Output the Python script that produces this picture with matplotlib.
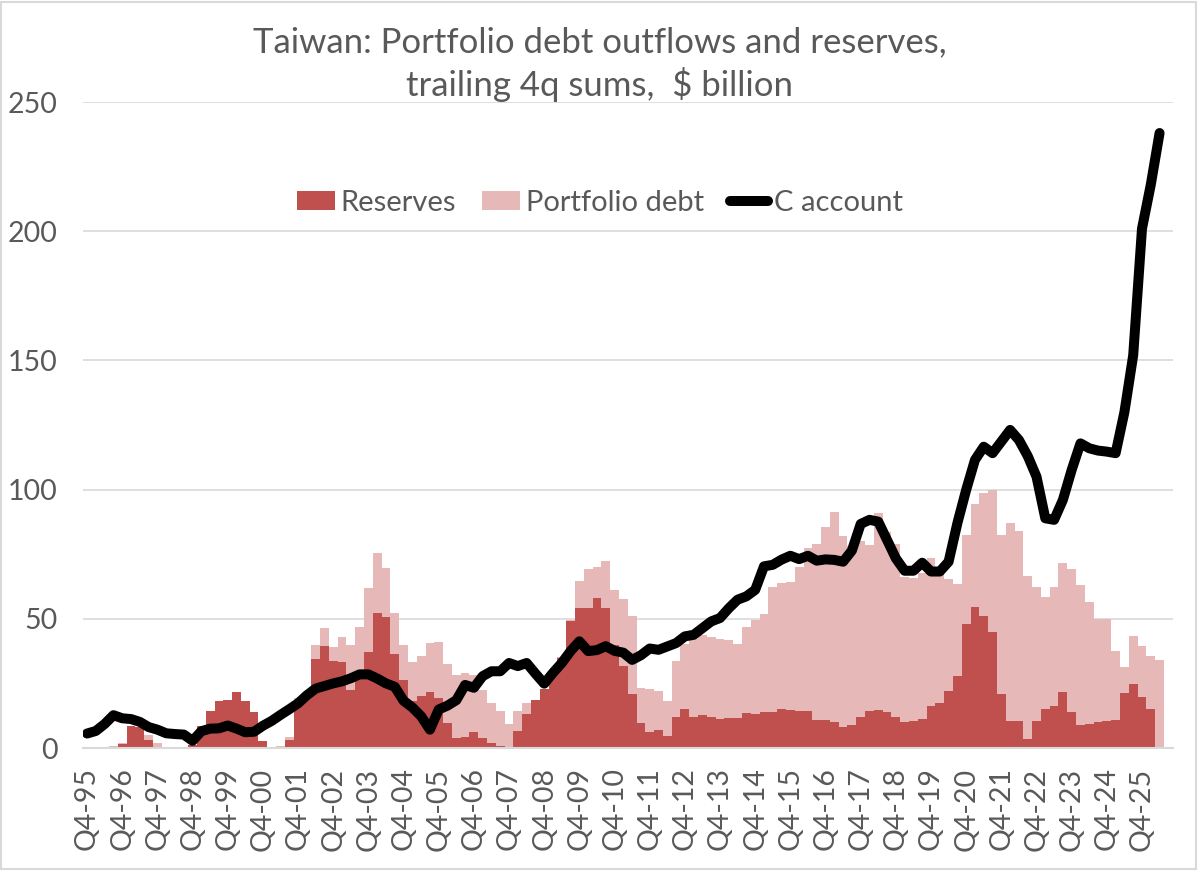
import matplotlib
matplotlib.use("Agg")
import matplotlib.pyplot as plt
from matplotlib.patches import Rectangle
from matplotlib.lines import Line2D
from matplotlib.patches import Patch

plt.rcParams['font.family'] = ['Lato', 'DejaVu Sans']

# quarterly, Q4-95 onwards (trailing 4q sums, $ billion)
reserves = [
    0, 0, 0, 0, 1.5, 8.4, 8.3, 3.2, 0, 0,
    0, 0, 1.3, 8.7, 14.5, 18.1, 18.5, 21.7, 18.3, 14.0,
    2.8, 0, 0, 3.0, 17.5, 19.0, 34.5, 39.4, 33.6, 33.2,
    22.5, 28.0, 37.1, 52.1, 50.6, 36.2, 26.5, 18.0, 20.2, 21.8,
    19.5, 9.8, 3.8, 4.3, 6.1, 3.9, 1.9, 0.8, 0, 6.5,
    13.2, 18.5, 22.9, 27.8, 34.9, 49.1, 54.0, 54.3, 58.1, 54.0,
    40.0, 31.7, 20.9, 9.6, 6.3, 7.0, 4.6, 11.9, 15.0, 12.1,
    12.8, 11.9, 11.2, 11.5, 11.8, 13.4, 13.0, 14.0, 14.1, 15.0,
    14.7, 14.5, 14.3, 11.0, 10.8, 10.2, 8.3, 8.9, 12.1, 14.5,
    14.7, 14.1, 12.1, 10.2, 10.6, 11.1, 16.3, 17.5, 22.2, 27.9,
    47.9, 54.5, 51.2, 44.8, 20.9, 10.6, 10.6, 3.4, 10.6, 15.0,
    16.3, 21.5, 14.1, 8.9, 9.3, 9.9, 10.6, 10.9, 21.2, 24.8,
    19.6, 15.1, 0,
]

portfolio_debt = [
    0, 0, 0, 0.6, 0.3, 0, 0, 1.7, 1.9, 0.4,
    0.3, 0.3, 0, 0, 0, 0, 0, 0, 0, 0,
    0, 0.3, 0.9, 1.4, 2.0, 1.5, 5.2, 6.9, 5.5, 9.7,
    17.5, 19.0, 24.9, 23.5, 19.2, 16.1, 13.5, 15.2, 15.5, 19.0,
    21.6, 22.6, 24.6, 24.7, 22.1, 18.5, 15.5, 13.4, 9.3, 7.7,
    4.2, 0, 0, 0, 0.3, 0.6, 10.6, 14.8, 12.1, 18.4,
    21.3, 26.1, 30.2, 13.6, 16.4, 15.2, 13.6, 21.6, 25.3, 29.9,
    31.0, 31.1, 31.0, 30.4, 28.5, 33.4, 36.6, 37.8, 48.4, 48.8,
    49.6, 55.5, 63.1, 68.0, 74.6, 81.3, 73.7, 69.1, 67.9, 64.1,
    76.1, 69.6, 66.7, 56.1, 55.1, 56.5, 57.1, 50.5, 43.1, 35.6,
    34.6, 40.0, 47.4, 55.1, 61.6, 76.6, 73.4, 63.3, 51.9, 43.6,
    46.2, 50.2, 55.2, 54.2, 47.3, 39.9, 39.2, 26.6, 10.0, 18.7,
    20.0, 20.5, 34.1,
]

c_account = [
    5.6, 6.6, 9.3, 12.7, 11.5, 11.2, 10.1, 8.1, 7.1, 5.7,
    5.4, 5.2, 2.8, 6.5, 7.5, 7.6, 8.7, 7.5, 6.1, 6.3,
    8.6, 10.5, 12.8, 15.0, 17.3, 20.4, 23.0, 24.0, 25.0, 25.8,
    27.0, 28.5, 28.5, 26.9, 25.0, 23.7, 18.3, 15.7, 12.3, 7.1,
    14.9, 16.4, 18.5, 24.4, 23.3, 27.8, 29.7, 29.7, 32.9, 31.7,
    32.9, 28.8, 24.9, 29.1, 32.9, 37.5, 41.3, 37.5, 37.9, 39.4,
    37.6, 36.9, 34.1, 35.9, 38.5, 38.0, 39.3, 40.6, 43.2, 43.8,
    46.4, 49.0, 50.3, 54.1, 57.4, 58.7, 61.2, 70.3, 70.9, 72.9,
    74.4, 73.1, 74.4, 72.5, 73.0, 72.8, 72.1, 76.4, 86.7, 88.3,
    87.6, 80.5, 73.4, 68.6, 68.6, 71.7, 68.3, 68.3, 72.1, 87.0,
    99.9, 111.5, 116.6, 114.1, 118.6, 123.1, 119.2, 113.0, 105.0, 88.9,
    88.3, 96.0, 107.6, 117.9, 116.0, 115.1, 114.7, 114.1, 130.0, 152.0,
    201.0, 218.0, 238.0,
]

tick_labels = [
    "Q4-95", "Q4-96", "Q4-97", "Q4-98", "Q4-99", "Q4-00", "Q4-01", "Q4-02",
    "Q4-03", "Q4-04", "Q4-05", "Q4-06", "Q4-07", "Q4-08", "Q4-09", "Q4-10",
    "Q4-11", "Q4-12", "Q4-13", "Q4-14", "Q4-15", "Q4-16", "Q4-17", "Q4-18",
    "Q4-19", "Q4-20", "Q4-21", "Q4-22", "Q4-23", "Q4-24", "Q4-25",
]

DARK = '#C0504D'
LIGHT = '#E6B9B8'
GREY_TXT = '#595959'
GRID = '#D9D9D9'

x = list(range(len(c_account)))
n_categories = len(c_account) + 1  # axis keeps one empty slot at the end

fig = plt.figure(figsize=(12, 8.72), dpi=100)
ax = fig.add_axes([0.0689, 0.1422, 0.9084, 0.7408])

ax.bar(x, reserves, width=1.0, color=DARK, linewidth=0, zorder=2)
ax.bar(x, portfolio_debt, width=1.0, bottom=reserves, color=LIGHT, linewidth=0, zorder=2)
ax.plot(x, c_account, color='black', lw=7.2, solid_joinstyle='round',
        solid_capstyle='round', zorder=3)

ax.set_xlim(-0.5, n_categories - 0.5)
ax.set_ylim(0, 250)
ax.set_yticks(range(0, 251, 50))
ax.yaxis.grid(True, color=GRID, lw=1.2, zorder=0)
ax.set_axisbelow(True)

ax.set_xticks(range(0, len(tick_labels) * 4, 4))
ax.set_xticklabels(tick_labels, rotation=90)
ax.tick_params(axis='x', length=0, pad=14, labelsize=20.5, labelcolor=GREY_TXT)
ax.tick_params(axis='y', length=0, pad=18, labelsize=20.5, labelcolor=GREY_TXT)

for side in ['top', 'right', 'left']:
    ax.spines[side].set_visible(False)
ax.spines['bottom'].set_color(GRID)
ax.spines['bottom'].set_linewidth(1.5)

fig.text(0.5, 1 - 42 / 872, "Taiwan: Portfolio debt outflows and reserves,",
         ha='center', va='center', fontsize=25, color=GREY_TXT)
fig.text(0.5, 1 - 85 / 872, "trailing 4q sums,  $ billion",
         ha='center', va='center', fontsize=25, color=GREY_TXT)

handles = [
    Patch(facecolor=DARK, edgecolor='none'),
    Patch(facecolor=LIGHT, edgecolor='none'),
    Line2D([0], [0], color='black', lw=7.2, solid_capstyle='round'),
]
fig.legend(handles, ["Reserves", "Portfolio debt", "C account"],
           loc='center', bbox_to_anchor=(0.5, 1 - 203 / 872), ncol=3,
           frameon=False, fontsize=21, labelcolor=GREY_TXT,
           handlelength=1.3, handleheight=0.65, handletextpad=0.2,
           columnspacing=0.9)

# thin chart-area border like the spreadsheet export
fig.patches.append(Rectangle((0.001, 0.003), 0.996, 0.995, transform=fig.transFigure,
                             fill=False, edgecolor=GRID, lw=1.5))

fig.savefig("out.png", dpi=100)
